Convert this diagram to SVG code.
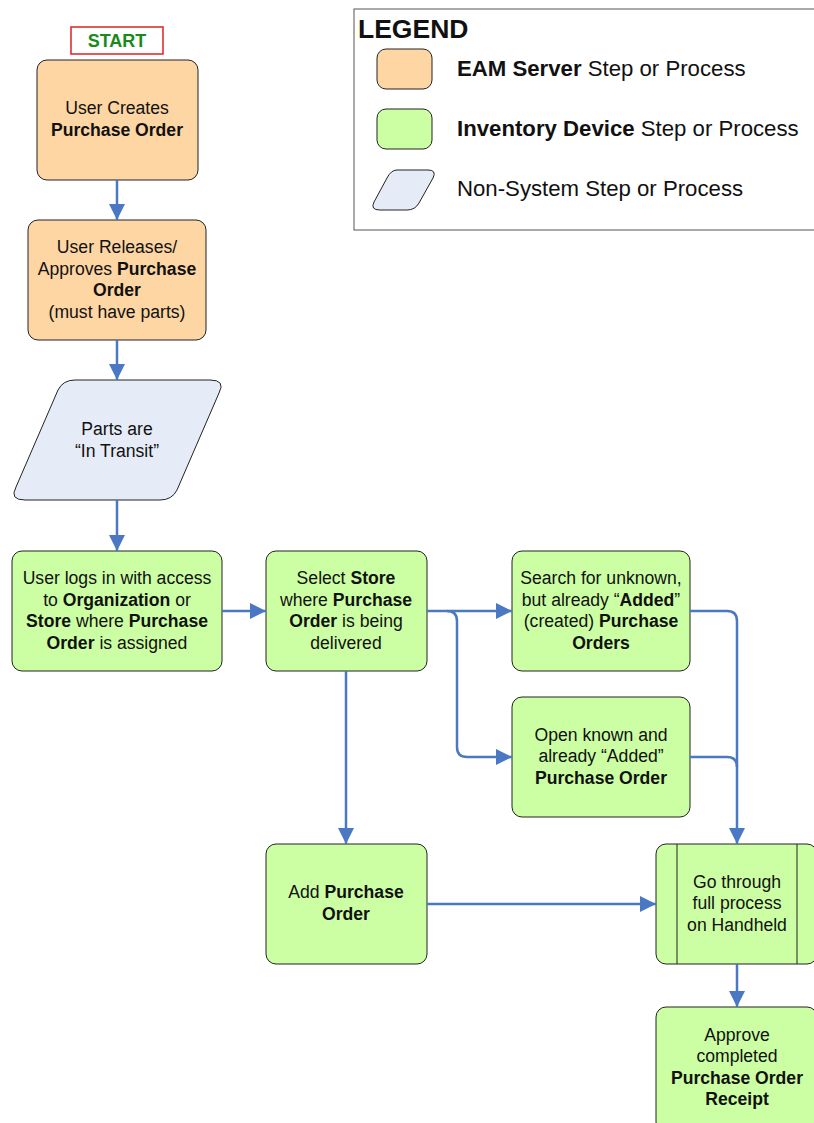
<svg xmlns="http://www.w3.org/2000/svg" width="814" height="1123" viewBox="0 0 814 1123">
<style>
text{font-family:"Liberation Sans",Arial,sans-serif;font-size:17.6px;fill:#111;text-anchor:middle}
.b{font-weight:bold}
.eam{fill:#FDD6A3;stroke:#222;stroke-width:1}
.inv{fill:#CCFFA3;stroke:#222;stroke-width:1}
.non{fill:#E6ECF7;stroke:#222;stroke-width:1}
.con{fill:none;stroke:#4A78C2;stroke-width:2.5}
.lg{font-size:22.2px;text-anchor:start}
</style>
<defs>
<marker id="ah" markerUnits="userSpaceOnUse" markerWidth="18" markerHeight="16" refX="16" refY="8" orient="auto">
<path d="M0,0 L16,8 L0,16 Z" fill="#4A78C2"/>
</marker>
</defs>
<rect width="814" height="1123" fill="#fff"/>

<g id="legend">
<rect x="354" y="9" width="470" height="221" fill="#fff" stroke="#555" stroke-width="1"/>
<text x="358" y="38" class="b" style="font-size:26.5px;text-anchor:start">LEGEND</text>
<rect x="377" y="49" width="55" height="40" rx="9" class="eam"/>
<text x="457" y="76" class="lg"><tspan class="b">EAM Server</tspan> Step or Process</text>
<rect x="377" y="109" width="55" height="40" rx="9" class="inv"/>
<text x="457" y="136" class="lg"><tspan class="b">Inventory Device</tspan> Step or Process</text>
<path d="M397,170 L428,170 Q437,170 433,178 L419,203 Q415,210 407,210 L380,210 Q370,210 374,202 L387,178 Q391,170 397,170 Z" class="non"/>
<text x="457" y="196" class="lg">Non-System Step or Process</text>
</g>

<g id="start">
<rect x="71" y="27" width="92" height="27" fill="#fff" stroke="#E02020" stroke-width="1.5"/>
<text x="117" y="47" class="b" style="fill:#1A8A1A;font-size:18px">START</text>
</g>

<g id="n1">
<rect x="37" y="60" width="161" height="120" rx="10" class="eam"/>
<text x="117" y="114">User Creates</text>
<text x="117" y="136" class="b">Purchase Order</text>
</g>

<g id="n2">
<rect x="28" y="220" width="178" height="120" rx="10" class="eam"/>
<text x="117" y="253">User Releases/</text>
<text x="117" y="275">Approves <tspan class="b">Purchase</tspan></text>
<text x="117" y="296" class="b">Order</text>
<text x="117" y="318">(must have parts)</text>
</g>

<g id="n3">
<path d="M75,380 L210,380 Q226,380 219,393 L177,490 Q172,500 160,500 L25,500 Q9,500 16,487 L58,390 Q63,380 75,380 Z" class="non"/>
<text x="117" y="435">Parts are</text>
<text x="117" y="457">“In Transit”</text>
</g>

<g id="n4">
<rect x="12" y="551" width="210" height="120" rx="10" class="inv"/>
<text x="117" y="584">User logs in with access</text>
<text x="117" y="606">to <tspan class="b">Organization</tspan> or</text>
<text x="117" y="627"><tspan class="b">Store</tspan> where <tspan class="b">Purchase</tspan></text>
<text x="117" y="649"><tspan class="b">Order</tspan> is assigned</text>
</g>

<g id="n5">
<rect x="266" y="551" width="161" height="120" rx="10" class="inv"/>
<text x="346" y="584">Select <tspan class="b">Store</tspan></text>
<text x="346" y="606">where <tspan class="b">Purchase</tspan></text>
<text x="346" y="627"><tspan class="b">Order</tspan> is being</text>
<text x="346" y="649">delivered</text>
</g>

<g id="n6">
<rect x="512" y="551" width="178" height="120" rx="10" class="inv"/>
<text x="601" y="584">Search for unknown,</text>
<text x="601" y="606">but already “<tspan class="b">Added</tspan>”</text>
<text x="601" y="627">(created) <tspan class="b">Purchase</tspan></text>
<text x="601" y="649" class="b">Orders</text>
</g>

<g id="n7">
<rect x="512" y="697" width="178" height="120" rx="10" class="inv"/>
<text x="601" y="741">Open known and</text>
<text x="601" y="762">already “Added”</text>
<text x="601" y="784" class="b">Purchase Order</text>
</g>

<g id="n8">
<rect x="266" y="844" width="161" height="120" rx="10" class="inv"/>
<text x="346" y="898">Add <tspan class="b">Purchase</tspan></text>
<text x="346" y="920" class="b">Order</text>
</g>

<g id="n9">
<rect x="656" y="844" width="161" height="120" rx="10" class="inv"/>
<line x1="677" y1="844" x2="677" y2="964" stroke="#222" stroke-width="1"/>
<line x1="797" y1="844" x2="797" y2="964" stroke="#222" stroke-width="1"/>
<text x="737" y="888">Go through</text>
<text x="737" y="909">full process</text>
<text x="737" y="931">on Handheld</text>
</g>

<g id="n10">
<rect x="656" y="1007" width="161" height="125" rx="10" class="inv"/>
<text x="737" y="1041">Approve</text>
<text x="737" y="1062">completed</text>
<text x="737" y="1084" class="b">Purchase Order</text>
<text x="737" y="1105" class="b">Receipt</text>
</g>

<g id="connectors">
<path d="M117,180 L117,220" class="con" marker-end="url(#ah)"/>
<path d="M117,340 L117,380" class="con" marker-end="url(#ah)"/>
<path d="M117,500 L117,551" class="con" marker-end="url(#ah)"/>
<path d="M222,611 L266,611" class="con" marker-end="url(#ah)"/>
<path d="M427,611 L512,611" class="con" marker-end="url(#ah)"/>
<path d="M447,611 Q457,611 457,621 L457,747 Q457,757 467,757 L512,757" class="con" marker-end="url(#ah)"/>
<path d="M346,671 L346,844" class="con" marker-end="url(#ah)"/>
<path d="M427,904 L656,904" class="con" marker-end="url(#ah)"/>
<path d="M690,611 L727,611 Q737,611 737,621 L737,844" class="con" marker-end="url(#ah)"/>
<path d="M690,757 L727,757 Q737,757 737,767" class="con"/>
<path d="M737,964 L737,1007" class="con" marker-end="url(#ah)"/>
</g>
</svg>
